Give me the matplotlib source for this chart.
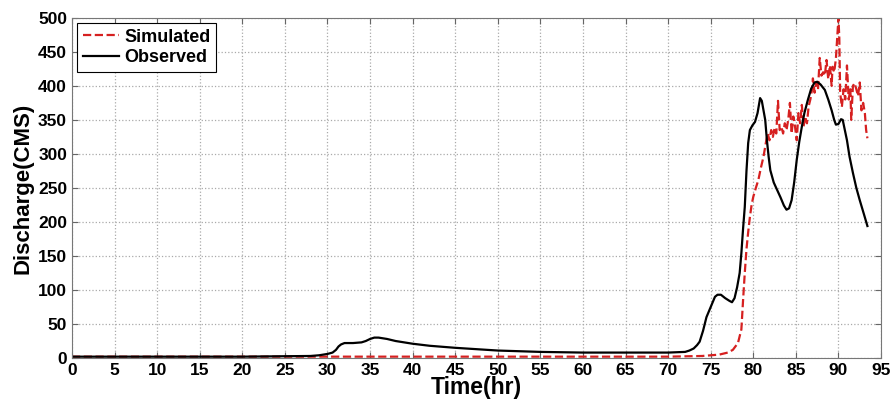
import numpy as np
import matplotlib.pyplot as plt

plt.rcParams['font.family'] = ['Liberation Sans', 'DejaVu Sans']

# observed discharge (CMS)
obs_t = [0, 10, 20, 28, 29, 30, 30.6, 31, 31.3, 31.6, 32, 33, 34, 34.5, 35, 35.5, 36, 37, 38,
         40, 42, 45, 50, 55, 60, 65, 70, 72, 72.5, 73, 73.4, 73.7, 74.1, 74.5, 75, 75.5, 75.8,
         76.2, 76.7, 77.2, 77.5, 77.8, 78.1, 78.4, 78.6, 78.8, 79.0, 79.2, 79.4, 79.6, 79.9,
         80.2, 80.5, 80.8, 81.0, 81.2, 81.4, 81.6, 81.8, 82.0, 82.4, 82.8, 83.2, 83.6, 83.9,
         84.2, 84.5, 84.8, 85.1, 85.4, 85.7, 86.0, 86.4, 86.8, 87.2, 87.5, 87.9, 88.4, 88.8,
         89.2, 89.5, 89.7, 90.0, 90.3, 90.5, 90.7, 91.0, 91.3, 91.7, 92.1, 92.5, 93.0, 93.4]
obs_q = [2, 2, 2, 3, 4, 6, 8, 12, 17, 20, 22, 22, 23, 25, 28, 30, 30, 28, 25,
         21, 18, 15, 11, 9, 8, 8, 8, 9, 11, 14, 19, 24, 40, 60, 75, 90, 93,
         93, 88, 84, 82, 88, 104, 125, 154, 190, 222, 275, 316, 335, 342,
         347, 360, 382, 378, 364, 350, 320, 296, 276, 258, 247, 236, 224, 218,
         220, 232, 258, 291, 318, 340, 360, 379, 396, 405, 406, 402, 394, 380,
         364, 350, 343, 344, 351, 350, 338, 320, 296, 272, 250, 232, 211, 194]

# simulated discharge (CMS)
sim_t = [0, 30, 50, 70, 72, 74, 76, 77, 77.6, 78.2, 78.6, 78.8, 79.0, 79.2, 79.4, 79.6, 79.8,
         80.0, 80.3, 80.6, 80.9, 81.2, 81.5, 81.7, 81.9, 82.1, 82.3, 82.5, 82.7, 82.9, 83.1,
         83.3, 83.5, 83.7, 83.9, 84.1, 84.3, 84.5, 84.7, 84.9, 85.1, 85.3, 85.5, 85.7, 85.9,
         86.1, 86.3, 86.5, 86.7, 86.9, 87.0, 87.2, 87.4, 87.6, 87.8, 88.0, 88.2, 88.4, 88.6,
         88.8, 89.0, 89.2, 89.3, 89.5, 89.7, 89.85, 90.0, 90.1, 90.2, 90.4, 90.6, 90.8, 91.0,
         91.2, 91.4, 91.5, 91.7, 91.9, 92.1, 92.3, 92.5, 92.7, 92.9, 93.1, 93.25, 93.4]
sim_q = [2, 2, 2, 2, 2.5, 3, 5, 8, 12, 22, 42, 85, 125, 160, 185, 207, 225,
         237, 250, 262, 280, 296, 318, 330, 320, 335, 325, 338, 330, 378, 335,
         340, 330, 345, 335, 350, 375, 330, 355, 340, 320, 360, 345, 372, 340,
         355, 345, 370, 380, 395, 411, 390, 405, 395, 441, 415, 420, 415, 438,
         410, 430, 400, 428, 420, 440, 470, 500, 470, 390, 369, 395, 380, 430,
         380, 395, 350, 400, 404, 395, 385, 405, 364, 375, 360, 335, 323]

fig = plt.figure(figsize=(8.94, 4.05), dpi=100)
ax = fig.add_axes([0.0805, 0.116, 0.905, 0.84])

ax.plot(sim_t, sim_q, color='#d62020', linestyle='--', linewidth=1.6, label='Simulated')
ax.plot(obs_t, obs_q, color='black', linewidth=1.6, label='Observed')

ax.set_xlim(0, 95)
ax.set_ylim(0, 500)
ax.set_xticks(np.arange(0, 96, 5))
ax.set_yticks(np.arange(0, 501, 50))
ax.grid(True, linestyle=':', color='#aaaaaa', linewidth=0.9)
ax.tick_params(direction='in', top=True, right=True, labelsize=12.5, color='#666666', length=4)
for lab in ax.get_xticklabels() + ax.get_yticklabels():
    lab.set_fontweight('bold')
for s in ax.spines.values():
    s.set_color('#777777')

ax.set_xlabel('Time(hr)', fontsize=16.5, fontweight='bold', labelpad=-1)
ax.set_ylabel('Discharge(CMS)', fontsize=16, fontweight='bold', labelpad=3)

leg = ax.legend(loc='upper left', prop={'weight': 'bold', 'size': 13}, fancybox=False,
                edgecolor='black', framealpha=1, handlelength=2.0, handletextpad=0.3,
                borderaxespad=0.3, borderpad=0.3, labelspacing=0.2)
leg.get_frame().set_linewidth(0.8)

fig.savefig('out.png', dpi=100)
